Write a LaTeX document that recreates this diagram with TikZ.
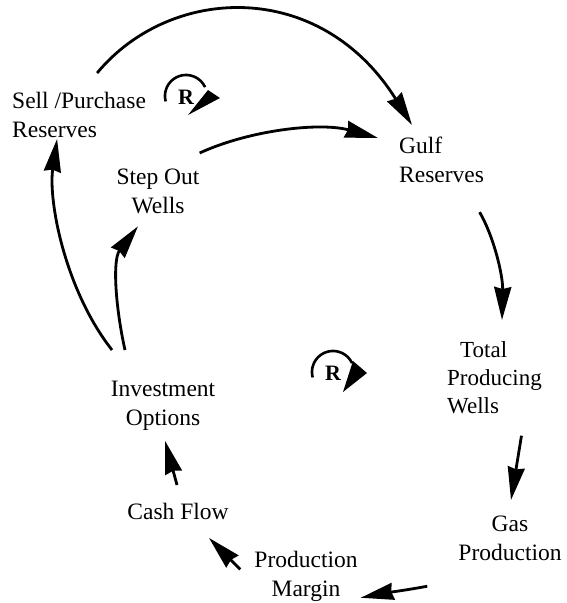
\documentclass[tikz,border=0pt]{standalone}
\usepackage{fontspec}
\setmainfont{Liberation Serif}
\usetikzlibrary{arrows.meta}
\begin{document}
\begin{tikzpicture}[x=1pt,y=-1pt,
  label/.style={inner sep=0pt, font=\fontsize{23.5}{29}\selectfont},
  link/.style={line width=2.8pt, -{Stealth[length=33pt,width=17pt,inset=2pt]}},
  loopline/.style={line width=2.6pt},
  loopmark/.style={inner sep=0pt, font=\fontsize{22}{24}\selectfont\bfseries}
]
\useasboundingbox (0,0) rectangle (567,603);

% variables of the causal loop diagram
\node[label, align=left,   anchor=north west] (sell)   at (12,92)   {Sell /Purchase\\Reserves};
\node[label, align=center, anchor=north]      (step)   at (158,169) {Step Out\\Wells};
\node[label, align=left,   anchor=north west] (gulf)   at (399,137) {Gulf\\Reserves};
\node[label, align=left,   anchor=north west, font=\fontsize{23}{28}\selectfont]
                                              (total)  at (447,341) {\hspace*{13pt}Total\\Producing\\Wells};
\node[label, align=center, anchor=north]      (gas)    at (510,516) {Gas\\Production};
\node[label, align=center, anchor=north]      (margin) at (306,551) {Production\\Margin};
\node[label, align=center, anchor=north]      (cash)   at (178,503) {Cash Flow};
\node[label, align=center, anchor=north]      (inv)    at (163,381) {Investment\\Options};

% causal links
\draw[link] ([shift={(18,-19)}]sell.north)
  .. controls +(73,-88) and +(-92,-147) .. ([shift={(13,-12)}]gulf.north west);
\draw[link] ([shift={(0,-16)}]step.north east)
  .. controls +(50,-23) and +(-58,-16) .. ([shift={(-21,1)}]gulf.north west);
\draw[link] ([shift={(38,29)}]gulf.south)
  .. controls +(14,24) and +(1,-45) .. ([shift={(55,-21)}]total.north west);
\draw[link] ([shift={(27,22)}]total.south) -- ([shift={(1,-16)}]gas.north);
\draw[link] ([shift={(-31,25)}]gas.south west)
  .. controls +(-15,3) and +(20,-4) .. ([shift={(3,-4)}]margin.south east);
\draw[link] ([shift={(-14,-7)}]margin.west) -- ([shift={(31,18)}]cash.south);
\draw[link] ([shift={(-1,-18)}]cash.north) -- ([shift={(2,10)}]inv.south);
\draw[link] ([shift={(-38,-31)}]inv.north)
  .. controls +(-9,-40) and +(-26,34) .. ([shift={(-20,12)}]step.south);
\draw[link] ([shift={(-51,-31)}]inv.north)
  .. controls +(-47,-60) and +(-9,62) .. ([shift={(-22,1)}]sell.south);

% reinforcing loop markers
\node[loopmark] (r1) at (186,97) {R};
\draw[loopline] plot[domain=165:335, samples=40]
  ({186+21*cos(\x)}, {96+21*sin(\x)});
\fill (r1) ++(22,-7) -- ++(12,8) -- (188,115) -- cycle;

\node[loopmark] (r2) at (333,373) {R};
\draw[loopline] plot[domain=165:335, samples=40]
  ({333+21*cos(\x)}, {372+21*sin(\x)});
\fill (r2) ++(20,-12) -- ++(14,12) -- (343,392) -- cycle;
\end{tikzpicture}
\end{document}
